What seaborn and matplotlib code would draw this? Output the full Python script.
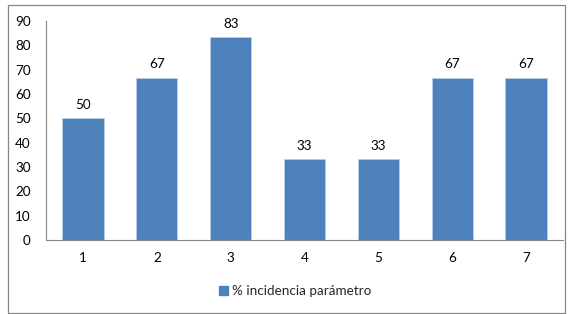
import matplotlib
matplotlib.use("Agg")
import matplotlib.pyplot as plt
import seaborn as sns
import pandas as pd
from matplotlib.patches import Rectangle

# data
categories = ["1", "2", "3", "4", "5", "6", "7"]
values = [50, 66.67, 83.33, 33.33, 33.33, 66.67, 66.67]
series_name = "% incidencia parámetro"
y_ticks = [0, 10, 20, 30, 40, 50, 60, 70, 80, 90]

df = pd.DataFrame({"parametro": categories, "incidencia": values})

sns.set_style("white")
plt.rcParams["font.family"] = ["Lato", "DejaVu Sans"]

bar_color = "#4F81BD"
axis_color = "#868686"
fs = 9.7

fig = plt.figure(figsize=(5.70, 3.14), dpi=100)
ax = fig.add_axes([46 / 570, 1 - 240 / 314, (563 - 46) / 570, (240 - 21) / 314])

sns.barplot(data=df, x="parametro", y="incidencia", color=bar_color,
            width=0.56, saturation=1, edgecolor="#B9CDE5", linewidth=0.6, ax=ax)

for i, v in enumerate(values):
    ax.text(i, v + 3, f"{v:.0f}", ha="center", va="bottom", fontsize=fs, color="black")

ax.set_ylim(0, 90)
ax.set_xlim(-0.5, len(categories) - 0.5)
ax.set_yticks(y_ticks)
ax.set_xlabel("")
ax.set_ylabel("")
ax.tick_params(axis="both", length=0, labelsize=fs, colors="black")
ax.tick_params(axis="x", pad=9)
ax.tick_params(axis="y", pad=11)
for side in ["top", "right"]:
    ax.spines[side].set_visible(False)
for side in ["left", "bottom"]:
    ax.spines[side].set_color(axis_color)
    ax.spines[side].set_linewidth(0.8)

# legend below
handle = Rectangle((0, 0), 1, 1, color=bar_color)
fig.legend([handle], [series_name], loc="center", bbox_to_anchor=(295 / 570, 1 - 291 / 314),
           frameon=False, fontsize=fs, handlelength=0.7, handleheight=0.7, handletextpad=0.3)

# outer chart border
fig.patches.append(Rectangle((8 / 570, 1 - 313 / 314), (565 - 8) / 570, (313 - 5) / 314,
                             transform=fig.transFigure, fill=False,
                             edgecolor=axis_color, linewidth=0.9))

fig.savefig("out.png", dpi=100, facecolor="white")
